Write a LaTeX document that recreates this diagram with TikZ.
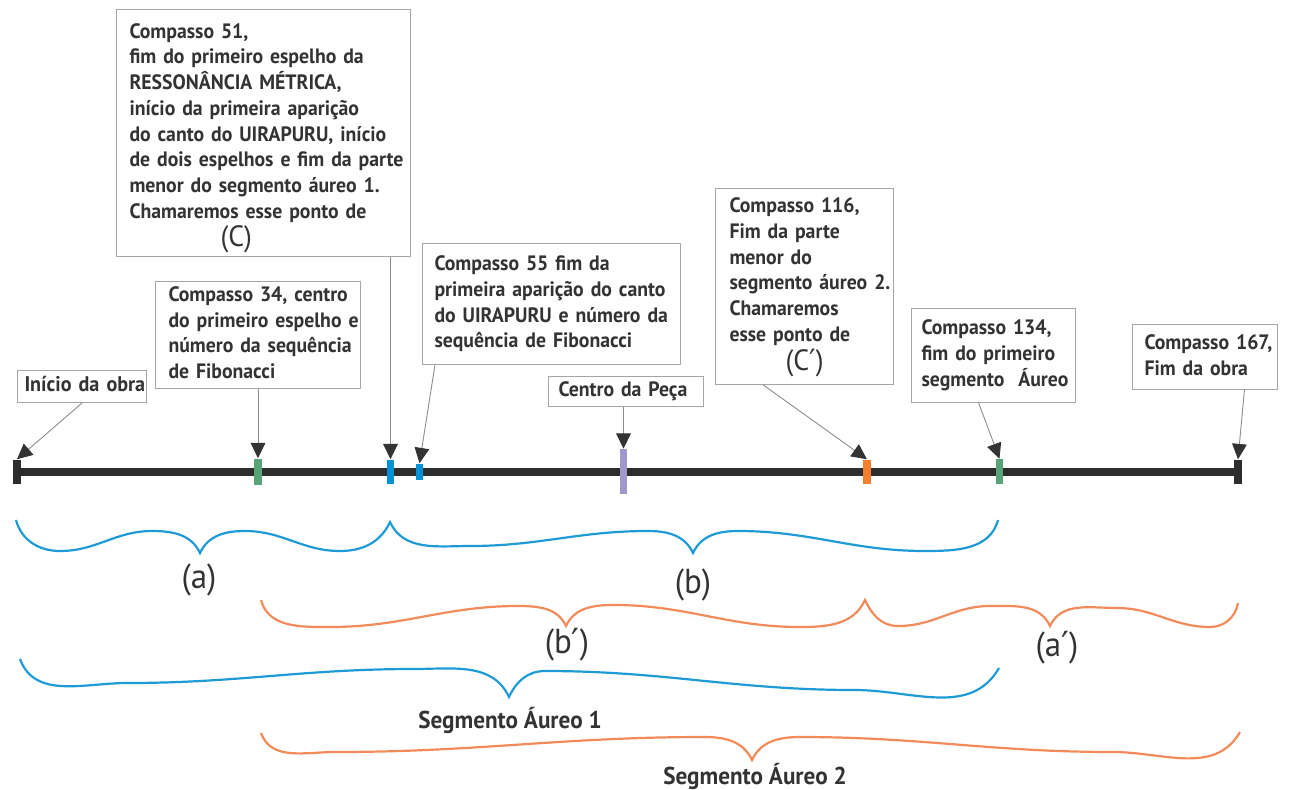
\documentclass[tikz,border=0pt]{standalone}
\usepackage{fontspec}
\setmainfont{PT Sans}[FakeStretch=0.95]
\newfontfamily\primefont{DejaVu Sans}
\usetikzlibrary{arrows.meta,calc,backgrounds}
\newdimen\pxu \pxu=0.75pt
\newcommand\boxfnt{\fontsize{15.6}{19.3}\selectfont\bfseries}
\newcommand\inifnt{\fontsize{15.9}{20}\selectfont\bfseries}
\newcommand\labfnt{\fontsize{26}{30}\selectfont}
\newcommand\segfnt{\fontsize{18.3}{22}\selectfont\bfseries}
\newcommand\cfnt{\fontsize{22}{26}\selectfont\mdseries}
\newcommand\prm{{\primefont ′}}
\newcommand\lines[1]{\begin{tabular}{@{}l@{}}#1\end{tabular}}
\definecolor{txt}{RGB}{51,51,51}
\definecolor{boxc}{RGB}{165,165,165}
\definecolor{axis}{RGB}{45,45,45}
\definecolor{tgreen}{RGB}{88,164,120}
\definecolor{tblue}{RGB}{0,145,215}
\definecolor{tpurple}{RGB}{158,152,204}
\definecolor{torange}{RGB}{242,128,48}
\definecolor{bblue}{RGB}{30,155,215}
\definecolor{borange}{RGB}{243,138,90}
\begin{document}
\begin{tikzpicture}[x=0.75pt,y=-0.75pt,
  box/.style={draw=boxc, line width=1\pxu, fill=white, anchor=north west, inner ysep=2\pxu, align=left, font=\boxfnt, text=txt},
  tick/.style={rectangle, inner sep=0, draw=none},
  arr/.style={draw=black!45, line width=0.9\pxu, -{Triangle[length=11.5pt,width=11pt,color=txt]}},
  bb/.style={draw=bblue, line width=2.2\pxu},
  bo/.style={draw=borange, line width=2.2\pxu},
  lab/.style={font=\labfnt, text=txt, inner sep=0},
  seg/.style={font=\segfnt, text=txt, inner sep=0}]
\useasboundingbox (0,0) rectangle (1291,789);

% ticks
\node[tick, fill=axis, minimum width=8\pxu, minimum height=24\pxu] (t0) at (17,471.5) {};
\node[tick, fill=tgreen, minimum width=8\pxu, minimum height=26\pxu] (t34) at (258,471.5) {};
\node[tick, fill=tblue, minimum width=7\pxu, minimum height=24\pxu] (t51) at (390.5,471.5) {};
\node[tick, fill=tblue, minimum width=7\pxu, minimum height=16\pxu] (t55) at (419.5,471.5) {};
\node[tick, fill=tpurple, minimum width=7\pxu, minimum height=45\pxu] (tc) at (623.5,471.5) {};
\node[tick, fill=torange, minimum width=8\pxu, minimum height=24\pxu] (t116) at (867,471.5) {};
\node[tick, fill=tgreen, minimum width=7\pxu, minimum height=25\pxu] (t134) at (999.5,471.5) {};
\node[tick, fill=axis, minimum width=8\pxu, minimum height=24\pxu] (tend) at (1238,471.5) {};
\begin{scope}[on background layer]
\draw[axis, line width=8\pxu] (t0.center) -- (tend.center);
\end{scope}

% boxes
\node[box, font=\inifnt, inner xsep=7\pxu, minimum width=129\pxu, minimum height=32\pxu, text width=115\pxu] (ini) at (17,370) {\lines{Início da obra}};
\node[box, inner xsep=13\pxu, minimum width=205\pxu, minimum height=100\pxu, text width=179\pxu] (c34) at (155,281) {\lines{Compasso 34, centro\\do primeiro espelho e\\número da sequência\\de Fibonacci}};
\node[box, inner xsep=13\pxu, minimum width=294\pxu, minimum height=241\pxu, text width=268\pxu] (c51) at (116,9) {\lines{\rule{0pt}{20pt}Compasso 51,\\fim do primeiro espelho da\\RESSONÂNCIA MÉTRICA,\\início da primeira aparição\\do canto do UIRAPURU, início\\de dois espelhos e fim da parte\\menor do segmento áureo 1.\\Chamaremos esse ponto de\\\hspace*{91\pxu}{\cfnt (C)}}};
\node[box, inner xsep=12\pxu, minimum width=258\pxu, minimum height=121\pxu, text width=234\pxu] (c55) at (422,243) {\lines{Compasso 55 fim da\\primeira aparição do canto\\do UIRAPURU e número da\\sequência de Fibonacci}};
\node[box, inner xsep=10\pxu, minimum width=155\pxu, minimum height=21\pxu, text width=135\pxu] (cen) at (548,376) {\lines{Centro da Peça}};
\node[box, inner xsep=14\pxu, minimum width=178\pxu, minimum height=196\pxu, text width=150\pxu] (c116) at (715,188) {\lines{Compasso 116,\\Fim da parte\\menor do\\segmento áureo 2.\\Chamaremos\\esse ponto de\\\hspace*{56\pxu}{\cfnt (C\prm)}}};
\node[box, inner xsep=10\pxu, minimum width=164\pxu, minimum height=94\pxu, text width=144\pxu] (c134) at (911,308) {\lines{Compasso 134,\\fim do primeiro\\segmento\ \ Áureo}};
\node[box, inner xsep=12\pxu, minimum width=145\pxu, minimum height=65\pxu, text width=121\pxu] (c167) at (1132,324) {\lines{Compasso 167,\\Fim da obra}};

% connectors
\draw[arr] (ini.south) -- (t0.north);
\draw[arr] (c34.south -| t34.north) -- (t34.north);
\draw[arr] (c51.south -| t51.north) -- (t51.north);
\draw[arr] ($(c55.south west)!0.05!(c55.south east)$) -- (t55.north);
\draw[arr] (cen.south -| tc.north) -- (tc.north);
\draw[arr] ($(c116.south west)!0.27!(c116.south east)$) -- (t116.north);
\draw[arr] ($(c134.south west)!0.41!(c134.south east)$) -- (t134.north);
\draw[arr] ($(c167.south west)!0.77!(c167.south east)$) -- (tend.north);

% braces
\draw[bb] (16,520) to[out=-75,in=180] (60,551) to[out=0,in=180] (152,531) to[out=0,in=115] (200,553) to[out=65,in=180] (245,531) to[out=0,in=180] (340,551) to[out=0,in=-115] (390,522) to[out=-65,in=180] (470,546) to[out=0,in=180] (648,531) to[out=0,in=115] (693,553) to[out=65,in=180] (738,531) to[out=0,in=180] (925,551) to[out=0,in=-105] (998,520);
\draw[bo] (261,600) to[out=-75,in=180] (330,627) to[out=0,in=180] (518,606) to[out=0,in=115] (566,626) to[out=65,in=180] (614,605) to[out=0,in=180] (800,627) to[out=0,in=-115] (865,600) to[out=-65,in=180] (898,626) to[out=0,in=180] (990,606) to[out=0,in=115] (1050,626) to[out=65,in=180] (1117,608) to[out=0,in=180] (1210,627) to[out=0,in=-100] (1238,603);
\draw[bb] (20,659) to[out=-70,in=180] (127,683) to[out=0,in=180] (414,669) to[out=0,in=115] (509,697) to[out=65,in=180] (545,671) to[out=0,in=180] (855,690) to[out=0,in=-120] (999,668);
\draw[bo] (261,733) to[out=-70,in=180] (335,752) to[out=0,in=180] (705,737) to[out=0,in=115] (752,760) to[out=65,in=180] (800,737) to[out=0,in=180] (1113,752) to[out=0,in=-120] (1240,732);

% labels
\node[lab] (la) at (199,580) {(a)};
\node[lab] (lb) at (693,585) {(b)};
\node[lab] (lbp) at (567,645) {(b\prm)};
\node[lab] (lap) at (1057,648) {(a\prm)};
\node[seg] (s1) at (510,720) {Segmento Áureo 1};
\node[seg] (s2) at (755,776) {Segmento Áureo 2};
\end{tikzpicture}
\end{document}
